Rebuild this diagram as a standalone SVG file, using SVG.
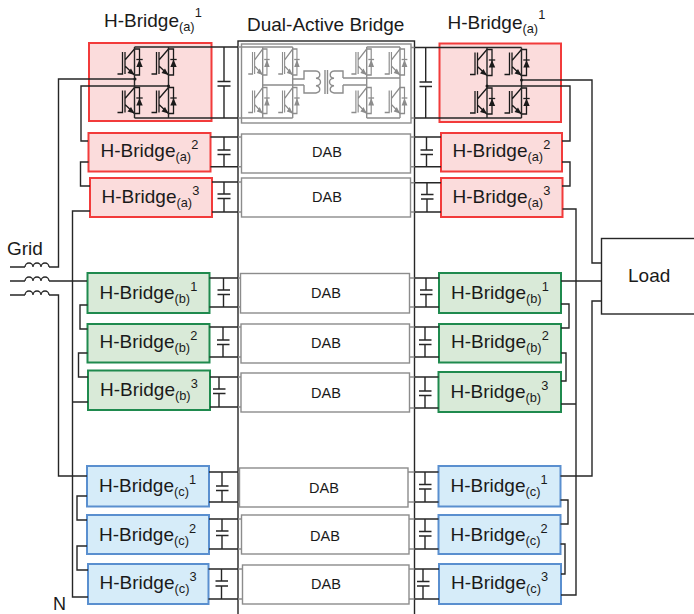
<svg xmlns="http://www.w3.org/2000/svg" width="694" height="614" viewBox="0 0 694 614">
<style>
text{font-family:"Liberation Sans",Arial,sans-serif;fill:#1a1a1a}
.t{font-size:19px}
.s{font-size:12.8px}
.d{font-size:14.5px;text-anchor:middle}
.r{fill:#fbdcdc;stroke:#f23b3b;stroke-width:2}
.g{fill:#d9ead8;stroke:#1f8a4e;stroke-width:2}
.b{fill:#d6ecf9;stroke:#5a8fcf;stroke-width:2}
.dab{fill:#fff;stroke:#8c8c8c;stroke-width:1.4}
.w{fill:none;stroke:#262626;stroke-width:1.4}
.y{fill:none;stroke:#8c8c8c;stroke-width:1.4}
.k{color:#1a1a1a}
.n{color:#8c8c8c}
</style>
<defs>
<g id="igbt" fill="none" stroke="currentColor" stroke-width="1.3">
<path d="M-17 27H-12V5M-9.500 5V27M-9.500 13L0 2H5V28H0L-9.500 19"/>
<polygon points="0,28 -7,26 -3.500,21.500" fill="currentColor" stroke="none"/>
<polygon points="5,12.500 1.800,20 8.200,20" fill="currentColor" stroke="none"/>
<path d="M1.800 12.500H8.200"/>
</g>
<path id="coil" d="M0 0a4 4 0 0 1 8 0a4 4 0 0 1 8 0a4 4 0 0 1 8 0" fill="none" stroke="#262626" stroke-width="1.3"/>
</defs>

<g id="dual-active-bridge">
<rect x="238" y="41" width="176.500" height="580" fill="#fff" stroke="#262626" stroke-width="1.4"/>
<text class="t" x="247" y="31">Dual-Active Bridge</text>
</g>

<g id="dab-1">
<rect class="dab" x="241.500" y="44" width="169.500" height="79"/>
<use href="#igbt" class="n" transform="translate(262.700 47) scale(.85 1)"/>
<use href="#igbt" class="n" transform="translate(292.700 47) scale(.85 1)"/>
<use href="#igbt" class="n" transform="translate(262.700 85.500) scale(.85 1)"/>
<use href="#igbt" class="n" transform="translate(292.700 85.500) scale(.85 1)"/>
<use href="#igbt" class="n" transform="translate(366.700 47) scale(.9 1)"/>
<use href="#igbt" class="n" transform="translate(400 47) scale(.9 1)"/>
<use href="#igbt" class="n" transform="translate(366.700 85.500) scale(.9 1)"/>
<use href="#igbt" class="n" transform="translate(400 85.500) scale(.9 1)"/>
<path class="y" d="M262.700 47V118M292.700 47V118M262.700 85H304M292.700 79H304V71H316M304 85V93H316M343 78V71H334M343 85V93H334M343 78H400M343 85H366.700M366.700 47V118M400 47V118M366.700 47H400M366.700 118H400M241 47H292.700M241 118H292.700"/>
<path class="y" d="M316 71a4.500 3.700 0 0 1 0 7.300a4.500 3.700 0 0 1 0 7.400a4.500 3.700 0 0 1 0 7.300M334 71a4.500 3.700 0 0 0 0 7.300a4.500 3.700 0 0 0 0 7.400a4.500 3.700 0 0 0 0 7.300M325 70V94M327.500 70V94"/>
</g>
<g id="dab-a2"><rect class="dab" x="241.500" y="134" width="169" height="39"/><text class="d" x="327" y="156.500">DAB</text></g>
<g id="dab-a3"><rect class="dab" x="241.500" y="178" width="169" height="39"/><text class="d" x="327" y="201.500">DAB</text></g>
<g id="dab-b1"><rect class="dab" x="240.500" y="273.500" width="169" height="39.500"/><text class="d" x="326" y="297.500">DAB</text></g>
<g id="dab-b2"><rect class="dab" x="241" y="324" width="168.500" height="39"/><text class="d" x="326" y="347.500">DAB</text></g>
<g id="dab-b3"><rect class="dab" x="241" y="373" width="168.500" height="39"/><text class="d" x="326" y="397.500">DAB</text></g>
<g id="dab-c1"><rect class="dab" x="239.500" y="468" width="168.500" height="39"/><text class="d" x="324" y="492.500">DAB</text></g>
<g id="dab-c2"><rect class="dab" x="241.500" y="515" width="167.500" height="39"/><text class="d" x="325" y="540.500">DAB</text></g>
<g id="dab-c3"><rect class="dab" x="242.500" y="565" width="166.500" height="39"/><text class="d" x="326" y="588.500">DAB</text></g>

<g id="bridge-a1-left">
<rect class="r" x="89" y="43" width="122.500" height="78"/>
<use href="#igbt" class="k" x="134.500" y="47"/><use href="#igbt" class="k" x="168.500" y="47"/>
<use href="#igbt" class="k" x="134.500" y="85.500"/><use href="#igbt" class="k" x="168.500" y="85.500"/>
<text class="t" x="104" y="27">H-Bridge<tspan class="s" dy="4">(a)</tspan><tspan class="s" dy="-14">1</tspan></text>
</g>
<g id="bridge-a2-left"><rect class="r" x="88.500" y="133" width="122" height="38.500"/><text class="t" x="100.500" y="157">H-Bridge<tspan class="s" dy="4">(a)</tspan><tspan class="s" dy="-12">2</tspan></text></g>
<g id="bridge-a3-left"><rect class="r" x="90" y="178" width="122" height="39"/><text class="t" x="101.500" y="203">H-Bridge<tspan class="s" dy="4">(a)</tspan><tspan class="s" dy="-12">3</tspan></text></g>
<g id="bridge-b1-left"><rect class="g" x="87.500" y="273" width="122" height="40"/><text class="t" x="99.500" y="299">H-Bridge<tspan class="s" dy="4">(b)</tspan><tspan class="s" dy="-12">1</tspan></text></g>
<g id="bridge-b2-left"><rect class="g" x="87.500" y="324" width="122" height="38.500"/><text class="t" x="99.500" y="348">H-Bridge<tspan class="s" dy="4">(b)</tspan><tspan class="s" dy="-12">2</tspan></text></g>
<g id="bridge-b3-left"><rect class="g" x="88" y="370.500" width="122" height="39.500"/><text class="t" x="100" y="396">H-Bridge<tspan class="s" dy="4">(b)</tspan><tspan class="s" dy="-12">3</tspan></text></g>
<g id="bridge-c1-left"><rect class="b" x="87" y="466" width="122" height="40.500"/><text class="t" x="99" y="492">H-Bridge<tspan class="s" dy="4">(c)</tspan><tspan class="s" dy="-12">1</tspan></text></g>
<g id="bridge-c2-left"><rect class="b" x="87" y="515" width="122" height="39"/><text class="t" x="99" y="541">H-Bridge<tspan class="s" dy="4">(c)</tspan><tspan class="s" dy="-12">2</tspan></text></g>
<g id="bridge-c3-left"><rect class="b" x="88" y="564" width="120.500" height="40"/><text class="t" x="99.500" y="589">H-Bridge<tspan class="s" dy="4">(c)</tspan><tspan class="s" dy="-12">3</tspan></text></g>

<g id="bridge-a1-right">
<rect class="r" x="439.500" y="43.500" width="121.500" height="78.500"/>
<use href="#igbt" class="k" x="487" y="47.500"/><use href="#igbt" class="k" x="521.500" y="47.500"/>
<use href="#igbt" class="k" x="487" y="86"/><use href="#igbt" class="k" x="521.500" y="86"/>
<text class="t" x="447.500" y="29">H-Bridge<tspan class="s" dy="4">(a)</tspan><tspan class="s" dy="-14">1</tspan></text>
</g>
<g id="bridge-a2-right"><rect class="r" x="441" y="133" width="121" height="38.500"/><text class="t" x="452.500" y="157">H-Bridge<tspan class="s" dy="4">(a)</tspan><tspan class="s" dy="-12">2</tspan></text></g>
<g id="bridge-a3-right"><rect class="r" x="441" y="178" width="121.500" height="39"/><text class="t" x="452.500" y="203">H-Bridge<tspan class="s" dy="4">(a)</tspan><tspan class="s" dy="-12">3</tspan></text></g>
<g id="bridge-b1-right"><rect class="g" x="439" y="273" width="122" height="40"/><text class="t" x="451" y="299">H-Bridge<tspan class="s" dy="4">(b)</tspan><tspan class="s" dy="-12">1</tspan></text></g>
<g id="bridge-b2-right"><rect class="g" x="439" y="324" width="122" height="38.500"/><text class="t" x="451" y="348">H-Bridge<tspan class="s" dy="4">(b)</tspan><tspan class="s" dy="-12">2</tspan></text></g>
<g id="bridge-b3-right"><rect class="g" x="438.500" y="372" width="122.500" height="40"/><text class="t" x="450.500" y="398">H-Bridge<tspan class="s" dy="4">(b)</tspan><tspan class="s" dy="-12">3</tspan></text></g>
<g id="bridge-c1-right"><rect class="b" x="438.500" y="466" width="122" height="40.500"/><text class="t" x="450.500" y="492">H-Bridge<tspan class="s" dy="4">(c)</tspan><tspan class="s" dy="-12">1</tspan></text></g>
<g id="bridge-c2-right"><rect class="b" x="438.500" y="515" width="122" height="39"/><text class="t" x="450.500" y="541">H-Bridge<tspan class="s" dy="4">(c)</tspan><tspan class="s" dy="-12">2</tspan></text></g>
<g id="bridge-c3-right"><rect class="b" x="439" y="564" width="122" height="40"/><text class="t" x="451" y="589">H-Bridge<tspan class="s" dy="4">(c)</tspan><tspan class="s" dy="-12">3</tspan></text></g>

<g id="load"><rect x="601.500" y="238.500" width="100" height="75.500" fill="#fff" stroke="#262626" stroke-width="1.400"/><text x="628" y="282" style="font-size:19px">Load</text></g>
<g id="grid">
<text x="7" y="255" style="font-size:19px">Grid</text>
<use href="#coil" x="25" y="267"/><use href="#coil" x="25" y="281"/><use href="#coil" x="25" y="295"/>
</g>
<text id="neutral" x="53" y="610" style="font-size:18px">N</text>

<g id="connectors">
<path class="w" d="M10 267H25M49 267H58.500V79H135"/>
<path class="w" d="M10 281H25M49 281H87"/>
<path class="w" d="M10 295H25M49 295H58.500V476H87"/>
<path class="w" d="M88 141H81V86H168.500"/>
<path class="w" d="M88.500 162H80.500V186H90"/>
<path class="w" d="M90 211H72.500V597H88M72.500 402H88"/>
<path class="w" d="M87.500 305H80V329H87.500M87.500 353H78.500V377H88"/>
<path class="w" d="M87 496H77V520H87M87 546H77V570H88"/>
<path class="w" d="M562 141H570V86H487M521.500 80H592V263H601.500"/>
<path class="w" d="M562 162H570V186H562"/>
<path class="w" d="M562.500 209H576V595H561M561 404H576"/>
<path class="w" d="M561 281H601.500"/>
<path class="w" d="M601.500 301H592V476H560.500"/>
<path class="w" d="M561 304H569V328H561M561 353H566V381H561"/>
<path class="w" d="M560.500 500H568V524H560.500M560.500 544H565V574H561"/>

<path class="w" d="M134.500 47H238M134.500 118H238M134.500 47V118M168.500 47V118"/>
<path class="w" d="M224 47V81.500M217.500 81.500H230.500M217.500 86H230.500M224 86V118"/>
<path class="w" d="M210.500 137H238M210.500 166.700H238M224 137V150M217.500 150H230.500M217.500 154.500H230.500M224 154.500V166.700"/>
<path class="w" d="M212 182H238M212 212H238M224 182V194M217.500 194H230.500M217.500 198.500H230.500M224 198.500V212"/>
<path class="w" d="M209.500 278H238M209.500 307H238M223.500 278V290M217.500 290H230M217.500 294.500H230M223.500 294.500V307"/>
<path class="w" d="M209.500 327H238M209.500 357H238M223 327V340M217 340H229.500M217 344.500H229.500M223 344.500V357"/>
<path class="w" d="M210 377H238M210 407H238M219 377V389M213 389H225.500M213 393.500H225.500M219 393.500V407"/>
<path class="w" d="M209 472H238M209 502H238M222 472V486M216 486H228.500M216 490.500H228.500M222 490.500V502"/>
<path class="w" d="M209 519H238M209 549H238M222 519V531M216 531H228.500M216 535.500H228.500M222 535.500V549"/>
<path class="w" d="M208.500 569H238M208.500 599H238M221.500 569V581M215.500 581H228M215.500 586H228M221.500 586V599"/>

<path class="w" d="M414.500 47.500H521.500M414.500 118H521.500M487 47.500V118M521.500 47.500V118"/>
<path class="w" d="M425.700 47.500V82M419.500 82H432M419.500 86.500H432M425.700 86.500V118"/>
<path class="w" d="M414.500 137H441M414.500 166.700H441M426.500 137V150M420.500 150H433M420.500 154.500H433M426.500 154.500V166.700"/>
<path class="w" d="M414.500 182.700H441M414.500 212H441M427 182.700V194.500M421 194.500H433.500M421 199H433.500M427 199V212"/>
<path class="w" d="M414.500 278H439M414.500 307H439M426 278V290M420 290H432.500M420 294.500H432.500M426 294.500V307"/>
<path class="w" d="M414.500 327H439M414.500 357H439M425 327V340M419 340H431.500M419 344.500H431.500M425 344.500V357"/>
<path class="w" d="M414.500 377H438.500M414.500 408H438.500M425 377V391M419 391H431.500M419 395.500H431.500M425 395.500V408"/>
<path class="w" d="M414.500 472H438.500M414.500 502H438.500M425 472V484.500M419 484.500H431.500M419 489H431.500M425 489V502"/>
<path class="w" d="M414.500 519H438.500M414.500 549H438.500M425 519V531.500M419 531.500H431.500M419 536H431.500M425 536V549"/>
<path class="w" d="M414.500 569H439M414.500 599H439M423 569V581.500M417 581.500H429.500M417 586H429.500M423 586V599"/>

<path class="y" d="M238 47H241.500M238 118H241.500M238 137H241.500M238 166.700H241.500M238 182H241.500M238 212H241.500M238 278H240.500M238 307H240.500M238 327H241M238 357H241M238 377H241M238 407H241M238 472H239.500M238 502H239.500M238 519H241.500M238 549H241.500M238 569H242.500M238 599H242.500"/>
<path class="y" d="M411 47.500H414.500M411 118H414.500M410.500 137H414.500M410.500 166.700H414.500M410.500 182.700H414.500M410.500 212H414.500M409.500 278H414.500M409.500 307H414.500M409.500 327H414.500M409.500 357H414.500M409.500 377H414.500M409.500 408H414.500M408 472H414.500M408 502H414.500M409 519H414.500M409 549H414.500M409 569H414.500M409 599H414.500"/>
<circle cx="135" cy="79" r="1.500" fill="#1a1a1a"/><circle cx="168.500" cy="86" r="1.500" fill="#1a1a1a"/>
<circle cx="487" cy="86" r="1.500" fill="#1a1a1a"/><circle cx="521.500" cy="80" r="1.500" fill="#1a1a1a"/>
</g>
</svg>
